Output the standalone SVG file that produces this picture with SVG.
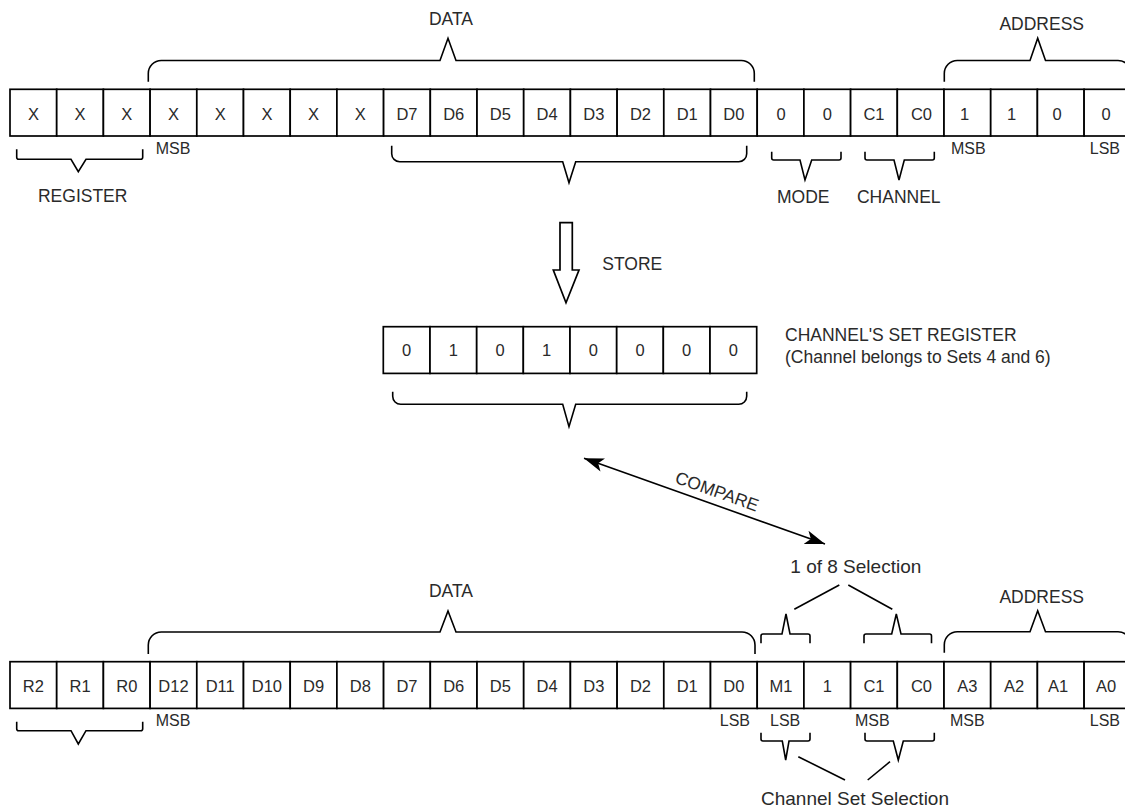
<svg xmlns="http://www.w3.org/2000/svg" width="1125" height="811" viewBox="0 0 1125 811">
<style>
  .cell { fill: #ffffff; stroke: #000000; stroke-width: 1.7; }
  .ct { font-family: "Liberation Sans", Arial, sans-serif; font-size: 16.5px; fill: #2a2a2a; text-anchor: middle; }
  .sm { font-family: "Liberation Sans", Arial, sans-serif; font-size: 16px; fill: #2a2a2a; }
  .lbl { font-family: "Liberation Sans", Arial, sans-serif; font-size: 17.5px; fill: #2a2a2a; }
  .lbl2 { font-family: "Liberation Sans", Arial, sans-serif; font-size: 19px; fill: #2a2a2a; }
  .mid { text-anchor: middle; }
  .end { text-anchor: end; }
  .br { fill: none; stroke: #000000; stroke-width: 1.6; stroke-linejoin: miter; }
  .ln { fill: none; stroke: #000000; stroke-width: 1.6; }
</style>
<defs>
  <marker id="ah" markerUnits="userSpaceOnUse" markerWidth="22" markerHeight="16" refX="20" refY="8" orient="auto-start-reverse">
    <path d="M0,1 L20,8 L0,15 L5,8 Z" fill="#000000"/>
  </marker>
</defs>
<rect x="0" y="0" width="1125" height="811" fill="#ffffff"/>

<!-- Top register word -->
<g id="top-word">
  <rect class="cell" x="10" y="89.3" width="46.7" height="46.7"/>
  <rect class="cell" x="56.7" y="89.3" width="46.7" height="46.7"/>
  <rect class="cell" x="103.4" y="89.3" width="46.7" height="46.7"/>
  <rect class="cell" x="150.1" y="89.3" width="46.7" height="46.7"/>
  <rect class="cell" x="196.8" y="89.3" width="46.7" height="46.7"/>
  <rect class="cell" x="243.5" y="89.3" width="46.7" height="46.7"/>
  <rect class="cell" x="290.2" y="89.3" width="46.7" height="46.7"/>
  <rect class="cell" x="336.9" y="89.3" width="46.7" height="46.7"/>
  <rect class="cell" x="383.6" y="89.3" width="46.7" height="46.7"/>
  <rect class="cell" x="430.3" y="89.3" width="46.7" height="46.7"/>
  <rect class="cell" x="477" y="89.3" width="46.7" height="46.7"/>
  <rect class="cell" x="523.7" y="89.3" width="46.7" height="46.7"/>
  <rect class="cell" x="570.4" y="89.3" width="46.7" height="46.7"/>
  <rect class="cell" x="617.1" y="89.3" width="46.7" height="46.7"/>
  <rect class="cell" x="663.8" y="89.3" width="46.7" height="46.7"/>
  <rect class="cell" x="710.5" y="89.3" width="46.7" height="46.7"/>
  <rect class="cell" x="757.2" y="89.3" width="46.7" height="46.7"/>
  <rect class="cell" x="803.9" y="89.3" width="46.7" height="46.7"/>
  <rect class="cell" x="850.6" y="89.3" width="46.7" height="46.7"/>
  <rect class="cell" x="897.3" y="89.3" width="46.7" height="46.7"/>
  <rect class="cell" x="944" y="89.3" width="46.7" height="46.7"/>
  <rect class="cell" x="990.7" y="89.3" width="46.7" height="46.7"/>
  <rect class="cell" x="1037.4" y="89.3" width="46.7" height="46.7"/>
  <rect class="cell" x="1084.1" y="89.3" width="46.7" height="46.7"/>
  <text class="ct" x="33.4" y="120">X</text>
  <text class="ct" x="80.1" y="120">X</text>
  <text class="ct" x="126.8" y="120">X</text>
  <text class="ct" x="173.5" y="120">X</text>
  <text class="ct" x="220.2" y="120">X</text>
  <text class="ct" x="266.9" y="120">X</text>
  <text class="ct" x="313.6" y="120">X</text>
  <text class="ct" x="360.3" y="120">X</text>
  <text class="ct" x="407" y="120">D7</text>
  <text class="ct" x="453.7" y="120">D6</text>
  <text class="ct" x="500.4" y="120">D5</text>
  <text class="ct" x="547.1" y="120">D4</text>
  <text class="ct" x="593.8" y="120">D3</text>
  <text class="ct" x="640.5" y="120">D2</text>
  <text class="ct" x="687.2" y="120">D1</text>
  <text class="ct" x="733.9" y="120">D0</text>
  <text class="ct" x="781" y="120">0</text>
  <text class="ct" x="827.3" y="120">0</text>
  <text class="ct" x="874" y="120">C1</text>
  <text class="ct" x="921.5" y="120">C0</text>
  <text class="ct" x="964.5" y="120">1</text>
  <text class="ct" x="1011.5" y="120">1</text>
  <text class="ct" x="1057" y="120">0</text>
  <text class="ct" x="1106" y="120">0</text>
  <text class="sm" x="155.7" y="154">MSB</text>
  <text class="sm" x="951" y="154">MSB</text>
  <text class="sm end" x="1120" y="154">LSB</text>
</g>

<g id="top-braces">
  <path class="br" d="M148.3,81.7 V73.5 A13,13 0 0 1 161.3,60.5 H440 L448,38.3 L456,60.5 H741.3 A13,13 0 0 1 754.3,73.5 V81.7"/>
  <path class="br" d="M944.3,81.7 V73.5 A13,13 0 0 1 957.3,60.5 H1030 L1037.7,38.3 L1045.5,60.5 H1118 A13,13 0 0 1 1131,73.5 V81.7"/>
  <path class="br" d="M16.7,149.3 V157.3 Q16.7,159.3 18.7,159.3 H71 L78.3,171.7 L86,159.3 H140.7 Q142.7,159.3 142.7,157.3 V149.3"/>
  <path class="br" d="M391.7,145.7 V153.7 A8,8 0 0 0 399.7,161.7 H562.7 L569,182.7 L575.7,161.7 H738.7 A8,8 0 0 0 746.7,153.7 V145.7"/>
  <path class="br" d="M771.7,151.7 V158 Q771.7,160 773.7,160 H800 L805,180 L811.7,160 H839 Q841,160 841,158 V151.7"/>
  <path class="br" d="M865,151.7 V158 Q865,160 867,160 H894 L899,180 L904.3,160 H932.3 Q934.3,160 934.3,158 V151.7"/>
  <text class="lbl mid" x="451" y="25">DATA</text>
  <text class="lbl mid" x="1041.7" y="30">ADDRESS</text>
  <text class="lbl mid" x="82.7" y="201.7">REGISTER</text>
  <text class="lbl mid" x="803.3" y="203.3">MODE</text>
  <text class="lbl mid" x="898.8" y="203.3">CHANNEL</text>
</g>

<g id="store">
  <polygon class="cell" points="560,222.7 572.3,222.7 572.3,270 579,270 566,302.7 553.3,270 560,270"/>
  <text class="lbl" x="602.3" y="270">STORE</text>
</g>

<!-- Channel's set register -->
<g id="set-register">
  <rect class="cell" x="383.3" y="326.7" width="46.7" height="46.7"/>
  <rect class="cell" x="430" y="326.7" width="46.7" height="46.7"/>
  <rect class="cell" x="476.7" y="326.7" width="46.7" height="46.7"/>
  <rect class="cell" x="523.3" y="326.7" width="46.7" height="46.7"/>
  <rect class="cell" x="570" y="326.7" width="46.7" height="46.7"/>
  <rect class="cell" x="616.7" y="326.7" width="46.7" height="46.7"/>
  <rect class="cell" x="663.3" y="326.7" width="46.7" height="46.7"/>
  <rect class="cell" x="710" y="326.7" width="46.7" height="46.7"/>
  <text class="ct" x="406.6" y="356">0</text>
  <text class="ct" x="453.3" y="356">1</text>
  <text class="ct" x="500" y="356">0</text>
  <text class="ct" x="546.7" y="356">1</text>
  <text class="ct" x="593.3" y="356">0</text>
  <text class="ct" x="640" y="356">0</text>
  <text class="ct" x="686.7" y="356">0</text>
  <text class="ct" x="733.3" y="356">0</text>
  <path class="br" d="M392.7,391.7 V396.3 A8,8 0 0 0 400.7,404.3 H562.7 L569,426.7 L575.7,404.3 H738.7 A8,8 0 0 0 746.7,396.3 V391.7"/>
  <text class="lbl" x="785" y="341">CHANNEL'S SET REGISTER</text>
  <text class="lbl" x="785" y="363">(Channel belongs to Sets 4 and 6)</text>
</g>

<g id="connectors">
  <line class="ln" x1="584" y1="458.3" x2="825" y2="544" marker-start="url(#ah)" marker-end="url(#ah)"/>
  <line class="ln" x1="839.3" y1="585" x2="794.3" y2="609.3"/>
  <line class="ln" x1="848.3" y1="585" x2="892.3" y2="609.3"/>
  <line class="ln" x1="798.3" y1="756.7" x2="845" y2="780"/>
  <line class="ln" x1="890" y1="761.7" x2="867.7" y2="780"/>
</g>
<text class="lbl mid" transform="translate(715,497) rotate(19.6)" x="0" y="0">COMPARE</text>
<text class="lbl2 mid" x="855.8" y="573.3">1 of 8 Selection</text>

<!-- Bottom word -->
<g id="bottom-word">
  <rect class="cell" x="10" y="661.7" width="46.7" height="46.7"/>
  <rect class="cell" x="56.7" y="661.7" width="46.7" height="46.7"/>
  <rect class="cell" x="103.4" y="661.7" width="46.7" height="46.7"/>
  <rect class="cell" x="150.1" y="661.7" width="46.7" height="46.7"/>
  <rect class="cell" x="196.8" y="661.7" width="46.7" height="46.7"/>
  <rect class="cell" x="243.5" y="661.7" width="46.7" height="46.7"/>
  <rect class="cell" x="290.2" y="661.7" width="46.7" height="46.7"/>
  <rect class="cell" x="336.9" y="661.7" width="46.7" height="46.7"/>
  <rect class="cell" x="383.6" y="661.7" width="46.7" height="46.7"/>
  <rect class="cell" x="430.3" y="661.7" width="46.7" height="46.7"/>
  <rect class="cell" x="477" y="661.7" width="46.7" height="46.7"/>
  <rect class="cell" x="523.7" y="661.7" width="46.7" height="46.7"/>
  <rect class="cell" x="570.4" y="661.7" width="46.7" height="46.7"/>
  <rect class="cell" x="617.1" y="661.7" width="46.7" height="46.7"/>
  <rect class="cell" x="663.8" y="661.7" width="46.7" height="46.7"/>
  <rect class="cell" x="710.5" y="661.7" width="46.7" height="46.7"/>
  <rect class="cell" x="757.2" y="661.7" width="46.7" height="46.7"/>
  <rect class="cell" x="803.9" y="661.7" width="46.7" height="46.7"/>
  <rect class="cell" x="850.6" y="661.7" width="46.7" height="46.7"/>
  <rect class="cell" x="897.3" y="661.7" width="46.7" height="46.7"/>
  <rect class="cell" x="944" y="661.7" width="46.7" height="46.7"/>
  <rect class="cell" x="990.7" y="661.7" width="46.7" height="46.7"/>
  <rect class="cell" x="1037.4" y="661.7" width="46.7" height="46.7"/>
  <rect class="cell" x="1084.1" y="661.7" width="46.7" height="46.7"/>
  <text class="ct" x="33.4" y="692.3">R2</text>
  <text class="ct" x="80.1" y="692.3">R1</text>
  <text class="ct" x="126.8" y="692.3">R0</text>
  <text class="ct" x="173.5" y="692.3">D12</text>
  <text class="ct" x="220.2" y="692.3">D11</text>
  <text class="ct" x="266.9" y="692.3">D10</text>
  <text class="ct" x="313.6" y="692.3">D9</text>
  <text class="ct" x="360.3" y="692.3">D8</text>
  <text class="ct" x="407" y="692.3">D7</text>
  <text class="ct" x="453.7" y="692.3">D6</text>
  <text class="ct" x="500.4" y="692.3">D5</text>
  <text class="ct" x="547.1" y="692.3">D4</text>
  <text class="ct" x="593.8" y="692.3">D3</text>
  <text class="ct" x="640.5" y="692.3">D2</text>
  <text class="ct" x="687.2" y="692.3">D1</text>
  <text class="ct" x="733.9" y="692.3">D0</text>
  <text class="ct" x="781" y="692.3">M1</text>
  <text class="ct" x="827.3" y="692.3">1</text>
  <text class="ct" x="874" y="692.3">C1</text>
  <text class="ct" x="921.5" y="692.3">C0</text>
  <text class="ct" x="967.4" y="692.3">A3</text>
  <text class="ct" x="1014" y="692.3">A2</text>
  <text class="ct" x="1058" y="692.3">A1</text>
  <text class="ct" x="1106" y="692.3">A0</text>
  <text class="sm" x="155.7" y="725.7">MSB</text>
  <text class="sm end" x="750" y="725.7">LSB</text>
  <text class="sm" x="770" y="725.7">LSB</text>
  <text class="sm" x="855" y="725.7">MSB</text>
  <text class="sm" x="950" y="725.7">MSB</text>
  <text class="sm end" x="1120" y="725.7">LSB</text>
</g>

<g id="bottom-braces">
  <path class="br" d="M148.3,654 V645 A13,13 0 0 1 161.3,632 H440 L448,611 L456,632 H742 A13,13 0 0 1 755,645 V654"/>
  <path class="br" d="M761,643.3 V636 Q761,634 763,634 H782 L786,614 L790,634 H808 Q810,634 810,636 V643.3"/>
  <path class="br" d="M864,643.3 V636 Q864,634 866,634 H891.7 L896.3,614 L901,634 H929.5 Q931.5,634 931.5,636 V643.3"/>
  <path class="br" d="M944.3,652.7 V644.7 A13,13 0 0 1 957.3,631.7 H1030 L1037.7,610.7 L1045.5,631.7 H1118 A13,13 0 0 1 1131,644.7 V652.7"/>
  <path class="br" d="M16.7,721.7 V728.7 Q16.7,730.7 18.7,730.7 H71 L78.3,744 L86,730.7 H140.7 Q142.7,730.7 142.7,728.7 V721.7"/>
  <path class="br" d="M761,732.7 V739 Q761,741 763,741 H782.3 L785.7,760 L789,741 H808 Q810,741 810,739 V732.7"/>
  <path class="br" d="M865,732.7 V739 Q865,741 867,741 H893.3 L898.3,760 L903.3,741 H932.3 Q934.3,741 934.3,739 V732.7"/>
  <text class="lbl mid" x="451" y="596.7">DATA</text>
  <text class="lbl mid" x="1041.7" y="603.3">ADDRESS</text>
  <text class="lbl2 mid" x="855" y="805">Channel Set Selection</text>
</g>
</svg>
